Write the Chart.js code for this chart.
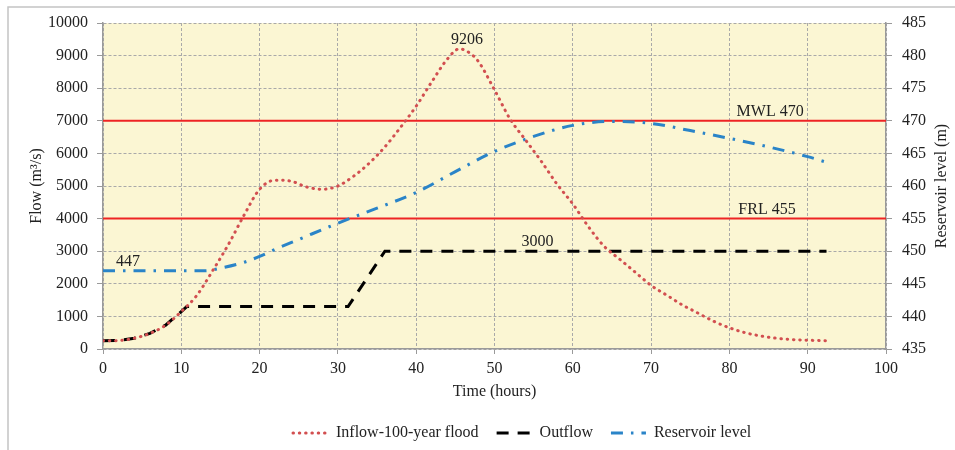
<!DOCTYPE html>
<html>
<head>
<meta charset="utf-8">
<script src="https://cdn.jsdelivr.net/npm/chart.js@4.4.0/dist/chart.umd.min.js"></script>
<style>
  body { margin: 0; background: #fff; }
  canvas { display: block; }
</style>
</head>
<body>
<canvas id="myChart" width="955" height="450"></canvas>
<script>
//------ data ------
const inflowHours = [0, 2, 4, 6, 8, 10, 12, 14, 16, 18, 20, 22, 24, 26, 28, 30, 32, 34, 36, 38, 40, 42, 44, 45.5, 47, 48, 50, 52, 54, 56, 58, 60, 62, 64, 66, 68, 70, 72, 74, 76, 78, 80, 82, 84, 86, 88, 90, 92.5];
const inflowFlow  = [250, 260, 330, 480, 730, 1150, 1650, 2400, 3200, 4100, 4900, 5180, 5150, 4970, 4900, 5000, 5300, 5700, 6200, 6800, 7450, 8200, 8900, 9206, 9050, 8800, 7950, 7050, 6400, 5750, 5050, 4450, 3750, 3150, 2750, 2350, 1950, 1650, 1350, 1100, 850, 650, 500, 400, 330, 290, 270, 250];

const outflowHours = [0, 2, 4, 6, 8, 10, 10.7, 31.3, 36, 92.4];
const outflowFlow  = [250, 260, 330, 480, 730, 1150, 1300, 1300, 3000, 3000];

const levelHours  = [0, 5, 10, 13, 15, 18, 20, 22, 25, 30, 35, 40, 45, 50, 55, 60, 65, 70, 75, 80, 85, 90, 92.5];
const levelValues = [447, 447, 447, 447, 447.4, 448.3, 449.2, 450.3, 451.8, 454.3, 456.6, 459.0, 462.2, 465.3, 467.6, 469.3, 469.9, 469.6, 468.5, 467.3, 466.0, 464.5, 463.6];

const mwl = 470;   // max water level
const frl = 455;   // full reservoir level
const flowRange = [0, 10000];
const levelRange = [435, 485];

const pts = (xs, ys) => xs.map((v, i) => ({x: v, y: ys[i]}));
const peakFlow = Math.max(...inflowFlow);
const maxOut = Math.max(...outflowFlow);

// text notes (data coords)
const notes = [
    {text: String(peakFlow), x: 46.5, y: peakFlow, axis: 'y'},
    {text: String(maxOut), x: 55.5, y: maxOut, axis: 'y'},
    {text: String(levelValues[0]), x: 3.2, y: levelValues[0], axis: 'y2'},
    {text: 'MWL ' + mwl, x: 85.2, y: mwl, axis: 'y2'},
    {text: 'FRL ' + frl, x: 84.8, y: frl, axis: 'y2'},
];

const font = {family: '"Liberation Serif", "Times New Roman", serif', size: 16};
const fontStr = '16px "Liberation Serif", "Times New Roman", serif';
const txt = '#222';
const gridCol = '#a9a9a9';
const axisCol = '#9a9a9a';
const plain = v => String(v);

//------ plugin: plot bg, frame, notes, legend ------
const decor = {
    id: 'decor',
    beforeDraw(chart) {
        const {ctx, chartArea: a} = chart;
        ctx.save();
        ctx.fillStyle = '#FBF6D3';
        ctx.fillRect(a.left, a.top, a.right - a.left, a.bottom - a.top);
        ctx.restore();
    },
    afterDraw(chart) {
        const {ctx, chartArea: a} = chart;
        const sx = chart.scales.x;
        ctx.save();
        // outer frame
        ctx.strokeStyle = '#c4c4c4';
        ctx.lineWidth = 1.5;
        ctx.beginPath();
        ctx.moveTo(8, 450); ctx.lineTo(8, 7); ctx.lineTo(955, 7);
        ctx.stroke();

        // notes
        ctx.font = fontStr;
        ctx.fillStyle = txt;
        ctx.textAlign = 'center';
        ctx.textBaseline = 'alphabetic';
        notes.forEach(n => {
            const sc = chart.scales[n.axis];
            ctx.fillText(n.text, sx.getPixelForValue(n.x), sc.getPixelForValue(n.y) - 5);
        });

        // legend
        let lx = 293;
        const ly = 433;
        chart.data.datasets.forEach(ds => {
            if (!ds.inLegend) return;
            ctx.save();
            ctx.strokeStyle = ds.borderColor;
            ctx.lineWidth = ds.borderWidth;
            ctx.setLineDash(ds.borderDash || []);
            ctx.lineCap = ds.borderCapStyle || 'butt';
            ctx.beginPath();
            ctx.moveTo(lx, ly); ctx.lineTo(lx + 35, ly);
            ctx.stroke();
            ctx.restore();
            ctx.textAlign = 'left';
            ctx.textBaseline = 'middle';
            ctx.fillText(ds.label, lx + 43, ly);
            lx += 43 + ctx.measureText(ds.label).width + 18;
        });

        // right axis title (reads bottom to top)
        ctx.translate(942, (a.top + a.bottom) / 2);
        ctx.rotate(-Math.PI / 2);
        ctx.textAlign = 'center';
        ctx.textBaseline = 'middle';
        ctx.fillText('Reservoir level (m)', 0, 0);
        ctx.restore();
    }
};

//------ chart ------
const ctx = document.getElementById('myChart').getContext('2d');
const data = {
    datasets: [
        {
            label: 'Inflow-100-year flood',
            data: pts(inflowHours, inflowFlow),
            yAxisID: 'y',
            borderColor: '#D24F50',
            borderWidth: 3,
            borderDash: [0.5, 5.8],
            borderCapStyle: 'round',
            cubicInterpolationMode: 'monotone',
            pointRadius: 0,
            inLegend: true,
        },
        {
            label: 'Outflow',
            data: pts(outflowHours, outflowFlow),
            yAxisID: 'y',
            borderColor: '#000000',
            borderWidth: 3,
            borderDash: [12, 9],
            tension: 0,
            pointRadius: 0,
            inLegend: true,
        },
        {
            label: 'Reservoir level',
            data: pts(levelHours, levelValues),
            yAxisID: 'y2',
            borderColor: '#2A84C8',
            borderWidth: 3,
            borderDash: [12, 8, 2.5, 8],
            cubicInterpolationMode: 'monotone',
            pointRadius: 0,
            inLegend: true,
        },
        {
            label: 'MWL',
            data: [{x: 0, y: mwl}, {x: 100, y: mwl}],
            yAxisID: 'y2',
            borderColor: '#EE2424',
            borderWidth: 2,
            pointRadius: 0,
        },
        {
            label: 'FRL',
            data: [{x: 0, y: frl}, {x: 100, y: frl}],
            yAxisID: 'y2',
            borderColor: '#EE2424',
            borderWidth: 2,
            pointRadius: 0,
        },
    ],
};

const config = {
    type: 'line',
    data: data,
    options: {
        responsive: false,
        animation: false,
        events: [],
        layout: {padding: {top: 23, left: 0, right: 0, bottom: 0}},
        plugins: {
            legend: {display: false},
            tooltip: {enabled: false},
        },
        scales: {
            x: {
                type: 'linear',
                min: 0,
                max: 100,
                ticks: {stepSize: 10, font: font, color: txt, padding: 5, maxRotation: 0, callback: plain},
                grid: {color: gridCol, tickLength: 5, tickColor: axisCol, tickBorderDash: []},
                border: {color: axisCol, width: 1.5, dash: [3, 2]},
                title: {display: true, text: 'Time (hours)', font: font, color: txt, padding: {top: 0, bottom: 49}},
                afterFit(s) { s.height = 101; },
            },
            y: {
                position: 'left',
                min: flowRange[0],
                max: flowRange[1],
                ticks: {stepSize: 1000, font: font, color: txt, padding: 9, callback: plain},
                grid: {color: gridCol, tickLength: 6, tickColor: axisCol, tickBorderDash: []},
                border: {color: axisCol, width: 1.5, dash: [3, 2]},
                title: {display: true, text: 'Flow (m³/s)', font: font, color: txt, padding: {top: 27, bottom: 0}},
                afterFit(s) { s.width = 103; },
            },
            y2: {
                position: 'right',
                min: levelRange[0],
                max: levelRange[1],
                ticks: {stepSize: 5, font: font, color: txt, padding: 10, callback: plain},
                grid: {drawOnChartArea: false, tickLength: 6, tickColor: axisCol},
                border: {color: axisCol, width: 1.5},
                afterFit(s) { s.width = 69; },
            },
        },
    },
    plugins: [decor],
};

const floodChart = new Chart(ctx, config);
</script>
</body>
</html>
